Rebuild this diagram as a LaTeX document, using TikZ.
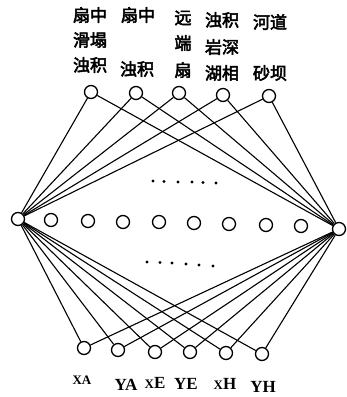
\documentclass[tikz,border=0pt]{standalone}
\usepackage{fontspec}
\setmainfont{Liberation Serif}
\newfontfamily\cjk[FakeBold=3]{Noto Sans CJK SC}
\usetikzlibrary{positioning}
\newcommand{\letrax}{{\fontsize{13}{13}\selectfont X}}

\begin{document}
\begin{tikzpicture}[
  x=1pt,y=-1pt,
  neurona/.style={circle,draw,line width=1.3pt,minimum size=13pt,inner sep=0pt},
  enlace/.style={line width=1.1pt},
  punto/.style={circle,fill,inner sep=0pt,minimum size=3.2pt},
  facies/.style={font=\cjk\fontsize{17}{17}\selectfont,inner sep=0pt},
  entrada/.style={font=\bfseries\fontsize{17}{17}\selectfont,anchor=base,inner sep=0pt}
]
  \useasboundingbox (0,0) rectangle (347,397);

  % Capa de salida y sus facies.
  \node[neurona] (t1) at (91,92) {};
  \node[neurona] (t2) at (136,93) {};
  \node[neurona] (t3) at (179,93) {};
  \node[neurona] (t4) at (223,95) {};
  \node[neurona] (t5) at (269,96) {};
  \node[facies] (f1a) at (90,15) {扇中};
  \node[facies] (f1b) at (90,40) {滑塌};
  \node[facies] (f1c) at (90,65) {浊积};
  \node[facies] (f2a) at (138,15) {扇中};
  \node[facies] (f2c) at (137,69) {浊积};
  \node[facies] (f3a) at (183,18) {远};
  \node[facies] (f3b) at (183,43) {端};
  \node[facies] (f3c) at (183,70) {扇};
  \node[facies] (f4a) at (222,20) {浊积};
  \node[facies] (f4b) at (222,47) {岩深};
  \node[facies] (f4c) at (222,73) {湖相};
  \node[facies] (f5a) at (270,22) {河道};
  \node[facies] (f5c) at (270,73) {砂坝};

  % Capa oculta.
  \node[neurona] (izq) at (18,219) {};
  \node[neurona] (der) at (339,229) {};
  \foreach \x/\y [count=\i] in {51/220,88/221,123/222,159/222,194/223,229/224,266/225,301/226}
    \node[neurona] (h\i) at (\x,\y) {};
  \foreach \x/\y [count=\i] in {153/181,164/181.5,178/182,192/182,203/182.5,216/183}
    \node[punto] (ps\i) at (\x,\y) {};
  \foreach \x/\y [count=\i] in {147/262,160/262.5,172/263,186/264,199/265,213/266}
    \node[punto] (pi\i) at (\x,\y) {};

  % Capa de entrada.
  \node[neurona] (b1) at (84,348) {};
  \node[neurona] (b2) at (118,350) {};
  \node[neurona] (b3) at (155,352) {};
  \node[neurona] (b4) at (190,352) {};
  \node[neurona] (b5) at (226,353) {};
  \node[neurona] (b6) at (262,354) {};
  \node[entrada,font=\bfseries\fontsize{13}{13}\selectfont] (vxa) at (82,384) {XA};
  \node[entrada] (vya) at (126,390) {YA};
  \node[entrada] (vxe) at (155,388) {\letrax E};
  \node[entrada] (vye) at (186,389) {YE};
  \node[entrada] (vxh) at (225,389) {\letrax H};
  \node[entrada] (vyh) at (263,392) {YH};

  % Conexiones.
  \foreach \t in {t1,t2,t3,t4,t5} {
    \draw[enlace] (izq) -- (\t);
    \draw[enlace] (der) -- (\t);
  }
  \foreach \b in {b1,b2,b3,b4,b5,b6} {
    \draw[enlace] (izq) -- (\b);
    \draw[enlace] (der) -- (\b);
  }
\end{tikzpicture}
\end{document}
